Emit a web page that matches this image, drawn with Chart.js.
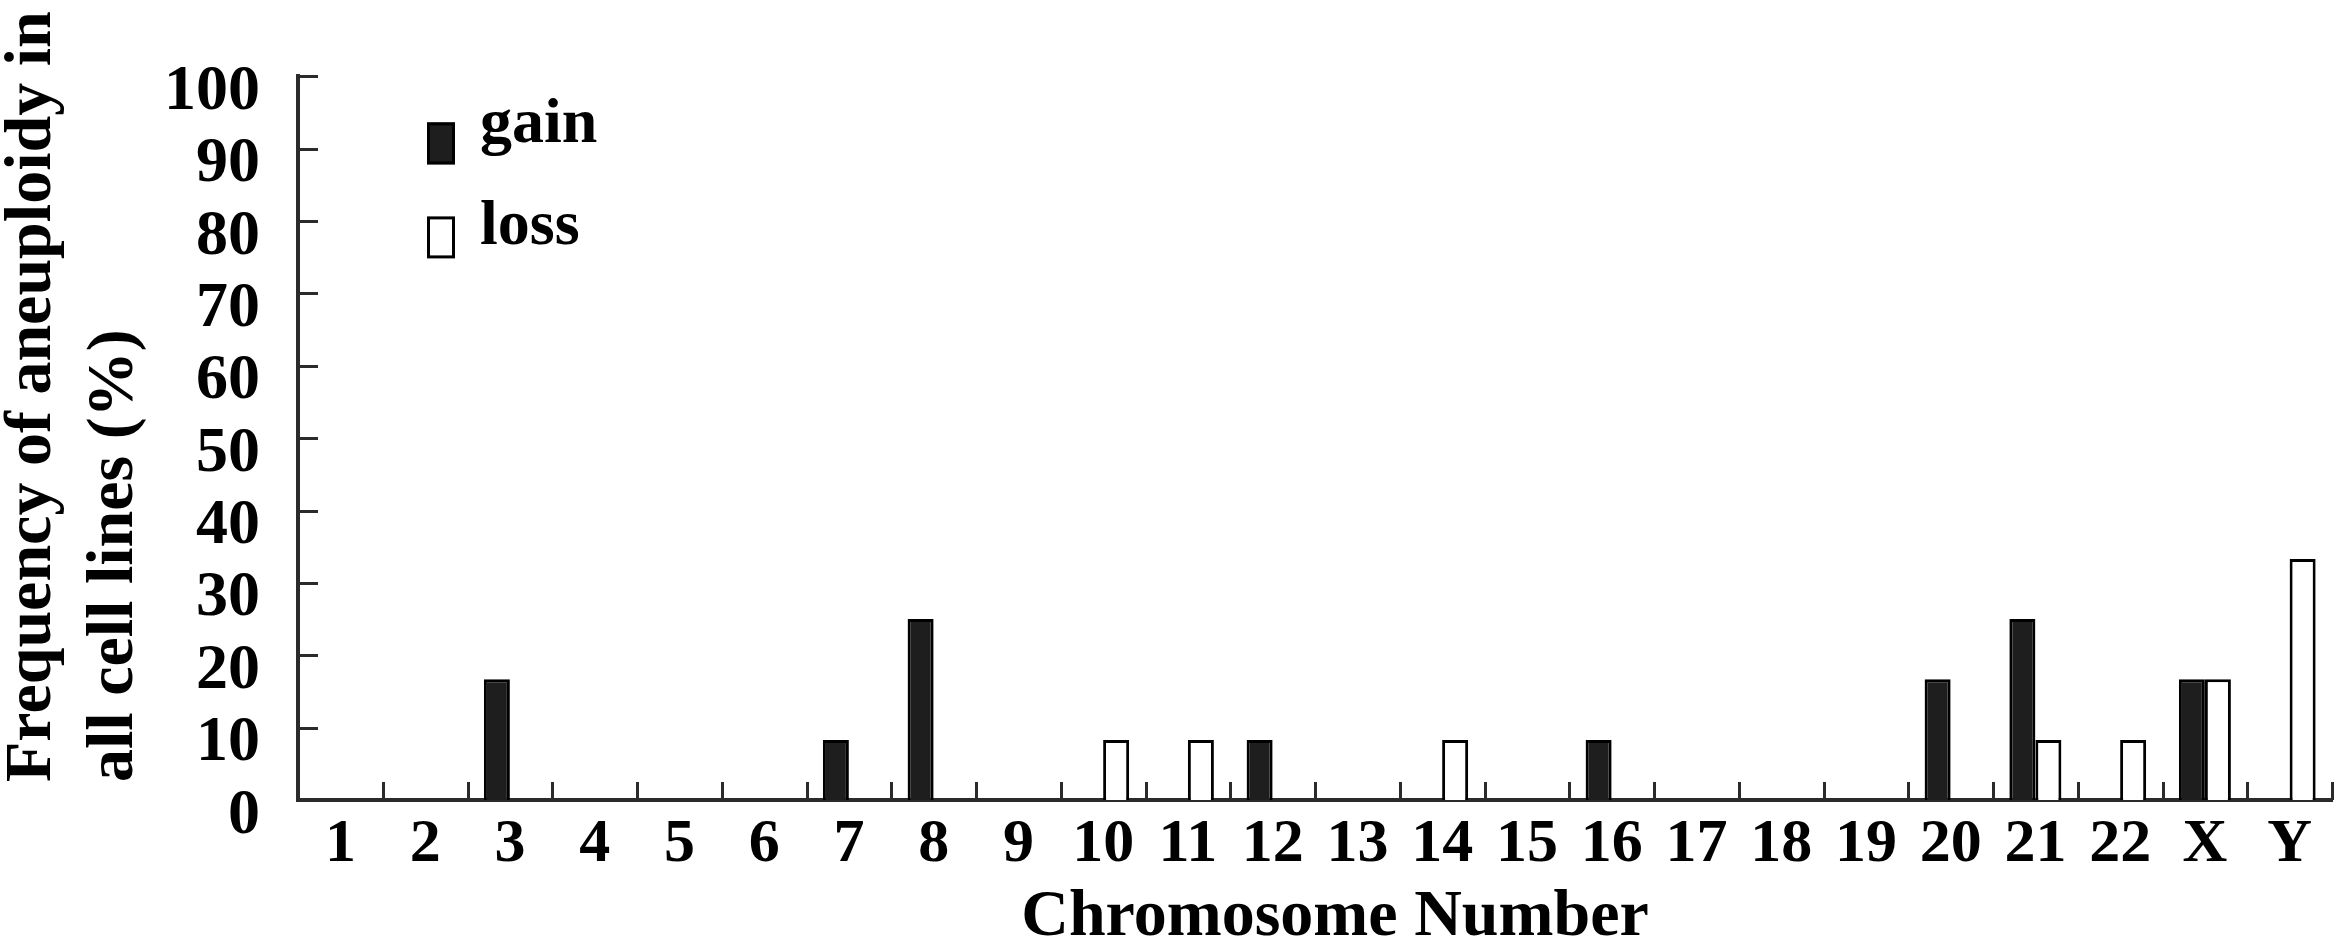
<!DOCTYPE html>
<html>
<head>
<meta charset="utf-8">
<title>Aneuploidy frequency by chromosome</title>
<script src="https://cdn.jsdelivr.net/npm/chart.js@4.4.1/dist/chart.umd.min.js"></script>
<style>
    html, body { margin: 0; padding: 0; background: #ffffff; }
    #wrap { width: 2341px; height: 944px; }
</style>
</head>
<body>
<div id="wrap"><canvas id="aneuploidyChart" width="2341" height="944"></canvas></div>
<script>
/* ====================================================
   DATA - frequency of aneuploidy in all cell lines (%)
   ==================================================== */
const chromosomes = ['1', '2', '3', '4', '5', '6', '7', '8', '9', '10', '11', '12',
                     '13', '14', '15', '16', '17', '18', '19', '20', '21', '22', 'X', 'Y'];

const gainValues = [0, 0, 16.7, 0, 0, 0, 8.3, 25, 0, 0, 0, 8.3,
                    0, 0, 0, 8.3, 0, 0, 0, 16.7, 25, 0, 16.7, 0];

const lossValues = [0, 0, 0, 0, 0, 0, 0, 0, 0, 8.3, 8.3, 0,
                    0, 8.3, 0, 0, 0, 0, 0, 0, 8.3, 8.3, 16.7, 33.3];

const yTickValues = [0, 10, 20, 30, 40, 50, 60, 70, 80, 90, 100];

const seriesNames = ['gain', 'loss'];
const yTitleLines = ['Frequency of aneuploidy in', 'all cell lines (%)'];
const xTitle = 'Chromosome Number';

// ====================================================
// VISUAL SETTINGS
// ====================================================
const FONT_FAMILY = "'Liberation Serif', 'Times New Roman', serif";
const AXIS_COLOR  = '#2b2b2b';
const GAIN_FILL   = '#1e1e1e';
const LOSS_FILL   = '#ffffff';

Chart.defaults.font.family = FONT_FAMILY;
Chart.defaults.color = '#000000';

// inward tick marks, axis titles and the legend drawn over the plot
const frameExtras = {
    id: 'frameExtras',
    afterDraw(chart) {
        const { ctx, chartArea, scales } = chart;
        const x = scales.x, y = scales.y;
        ctx.save();

        // tick marks pointing into the plot
        ctx.strokeStyle = AXIS_COLOR;
        ctx.lineWidth = 3;
        yTickValues.forEach(v => {
            const py = Math.round(y.getPixelForValue(v)) + 0.5;
            ctx.beginPath();
            ctx.moveTo(chartArea.left, py);
            ctx.lineTo(chartArea.left + 20, py);
            ctx.stroke();
        });
        for (let i = 0; i <= chromosomes.length; i++) {
            const px = Math.round(x.getPixelForValue(i - 0.5)) + 0.5;
            ctx.beginPath();
            ctx.moveTo(px, chartArea.bottom);
            ctx.lineTo(px, chartArea.bottom - 18);
            ctx.stroke();
        }

        // y title, two lines, reading upwards from the same start
        ctx.fillStyle = '#000000';
        ctx.font = 'bold 66px ' + FONT_FAMILY;
        ctx.textAlign = 'left';
        ctx.textBaseline = 'alphabetic';
        const titleStart = chartArea.bottom - 18;
        const baselines = [chartArea.left - 248, chartArea.left - 166];
        yTitleLines.forEach((line, i) => {
            ctx.save();
            ctx.translate(baselines[i], titleStart);
            ctx.rotate(-Math.PI / 2);
            ctx.fillText(line, 0, 0);
            ctx.restore();
        });

        // x title
        ctx.textAlign = 'center';
        ctx.fillText(xTitle, (chartArea.left + chartArea.right) / 2 + 20, chartArea.bottom + 135);

        // legend
        ctx.font = 'bold 64px ' + FONT_FAMILY;
        ctx.textAlign = 'left';
        chart.data.datasets.forEach((ds, i) => {
            const bx = chartArea.left + 129;
            const by = chartArea.top + 46 + i * 94;
            ctx.fillStyle = ds.backgroundColor;
            ctx.fillRect(bx, by, 28, 42);
            ctx.strokeStyle = '#000000';
            ctx.lineWidth = 3;
            ctx.strokeRect(bx + 1.5, by + 1.5, 25, 39);
            ctx.fillStyle = '#000000';
            ctx.fillText(ds.label, bx + 53, by + 20 + (i === 0 ? 0 : 8));
        });

        ctx.restore();
    }
};

// ====================================================
// CHART
// ====================================================
const ctx = document.getElementById('aneuploidyChart').getContext('2d');
new Chart(ctx, {
    type: 'bar',
    data: {
        labels: chromosomes,
        datasets: [
            {
                label: seriesNames[0],
                data: gainValues,
                backgroundColor: GAIN_FILL,
                borderColor: '#000000',
                borderWidth: 3,
                categoryPercentage: 0.614,
                barPercentage: 1.0
            },
            {
                label: seriesNames[1],
                data: lossValues,
                backgroundColor: LOSS_FILL,
                borderColor: '#000000',
                borderWidth: 3,
                categoryPercentage: 0.614,
                barPercentage: 1.0
            }
        ]
    },
    options: {
        responsive: false,
        animation: false,
        devicePixelRatio: 1,
        layout: { padding: { top: 67, right: 9, left: 0, bottom: 0 } },
        plugins: {
            legend: { display: false },
            tooltip: { enabled: false }
        },
        scales: {
            x: {
                offset: true,
                grid: { display: false, drawTicks: false },
                border: { display: true, color: AXIS_COLOR, width: 4 },
                ticks: {
                    font: { size: 62, weight: 'bold' },
                    color: '#000000',
                    padding: 8,
                    maxRotation: 0,
                    autoSkip: false
                },
                afterFit(scale) { scale.height = 144; }
            },
            y: {
                min: 0,
                max: 100,
                grid: { display: false, drawTicks: false },
                border: { display: true, color: AXIS_COLOR, width: 4 },
                afterBuildTicks(scale) {
                    scale.ticks = yTickValues.map(v => ({ value: v }));
                },
                ticks: {
                    font: { size: 64, weight: 'bold' },
                    color: '#000000',
                    padding: 38,
                    labelOffset: 16,
                    autoSkip: false
                },
                afterFit(scale) { scale.width = 298; }
            }
        }
    },
    plugins: [frameExtras]
});
</script>
</body>
</html>
